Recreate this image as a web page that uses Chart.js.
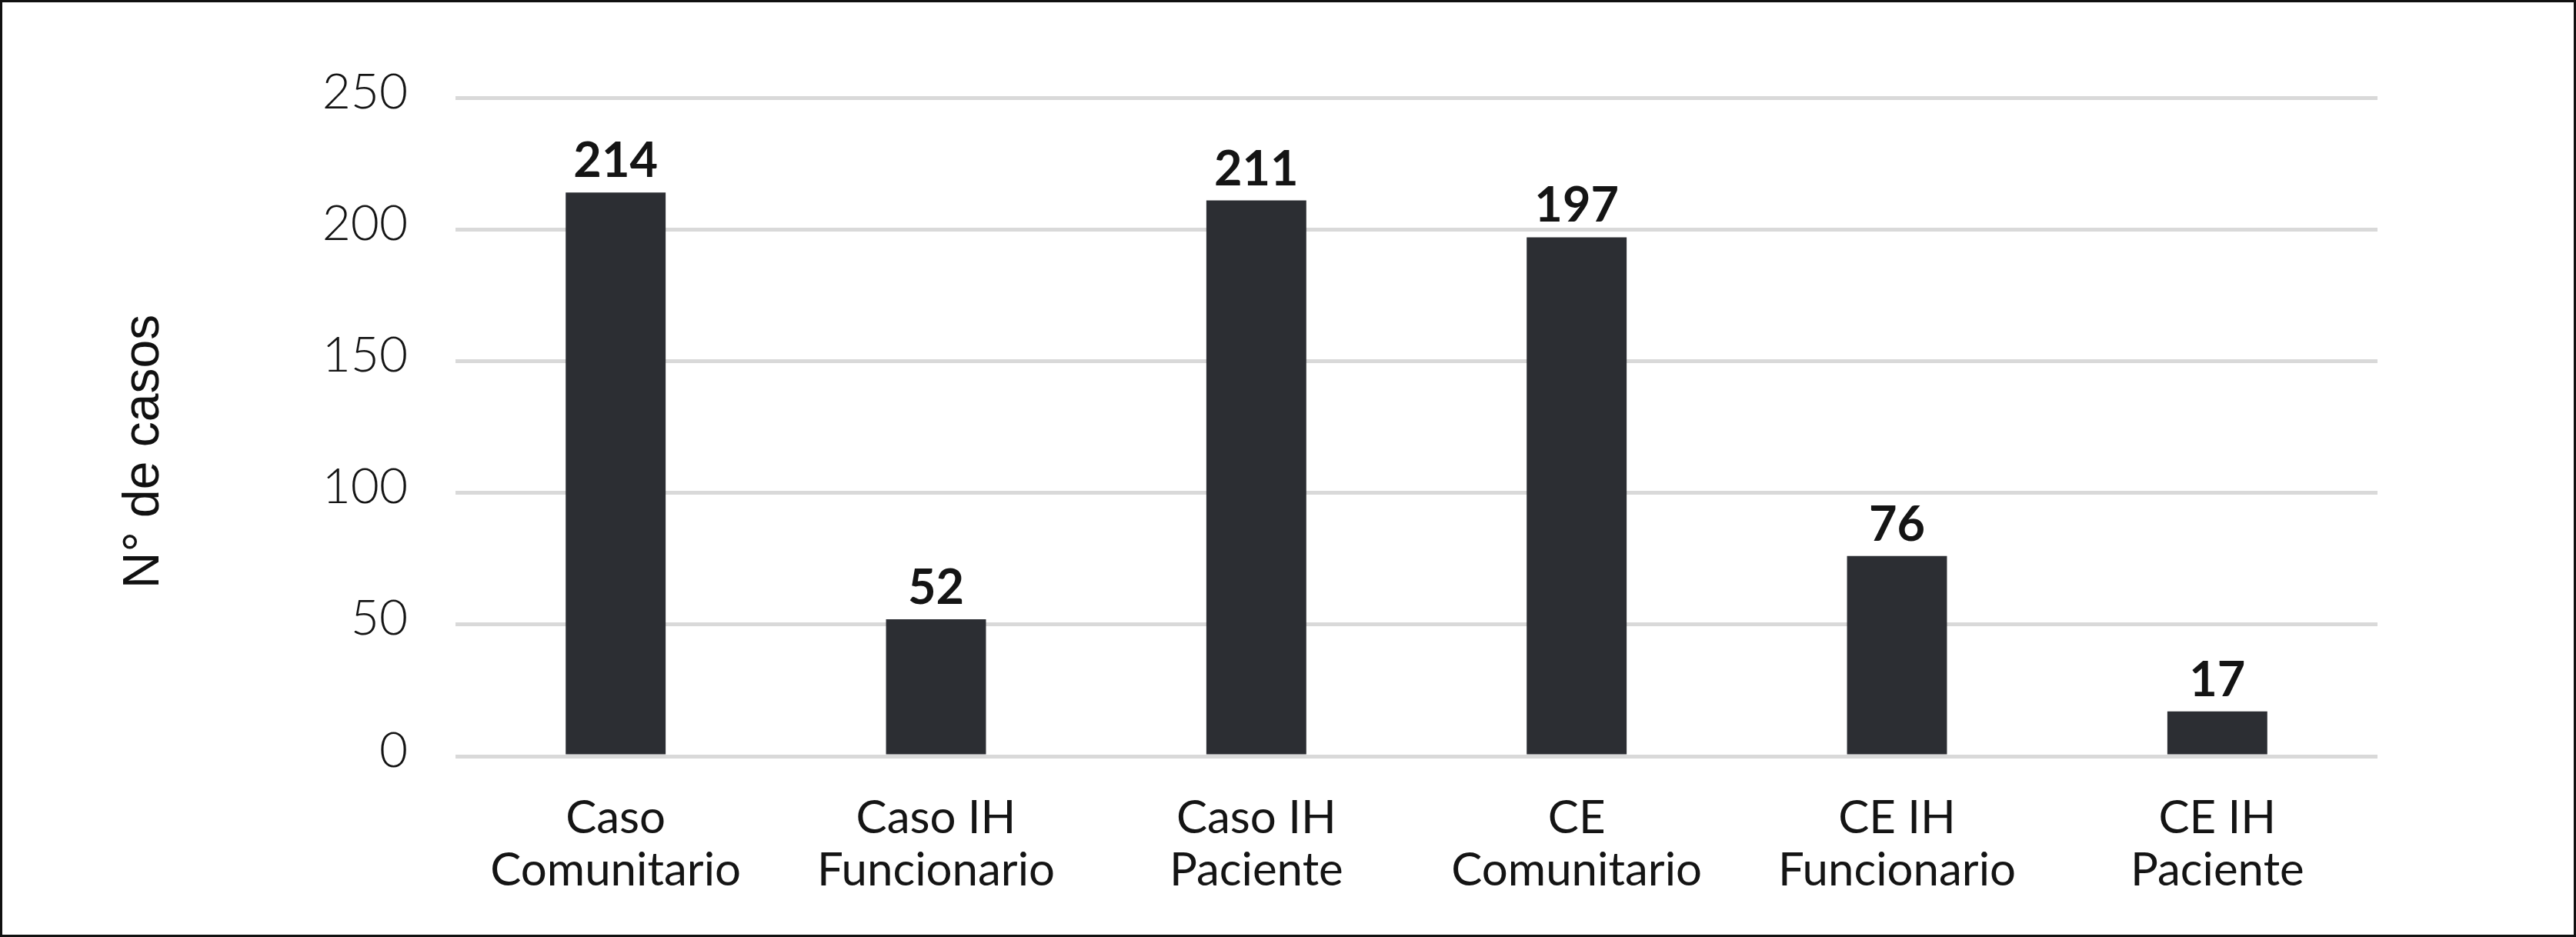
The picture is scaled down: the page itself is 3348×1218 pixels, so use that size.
<!DOCTYPE html>
<html>
<head>
<meta charset="utf-8">
<script src="https://cdn.jsdelivr.net/npm/chart.js@4"></script>
<style>
  html, body { margin: 0; padding: 0; background: #fff; }
  canvas { display: block; }
</style>
</head>
<body>
<canvas id="casosChart" width="3348" height="1218"></canvas>
<script>
const categories = [
  ['Caso', 'Comunitario'],
  ['Caso IH', 'Funcionario'],
  ['Caso IH', 'Paciente'],
  ['CE', 'Comunitario'],
  ['CE IH', 'Funcionario'],
  ['CE IH', 'Paciente']
]
const casos = [214, 52, 211, 197, 76, 17]
const yTicks = [0, 50, 100, 150, 200, 250]
const yTitle = 'N° de casos'

// value labels above each bar
const barLabels = {
  id: 'barLabels',
  afterDatasetsDraw(chart) {
    const ctx = chart.ctx
    const meta = chart.getDatasetMeta(0)
    ctx.save()
    ctx.font = 'bold 63px Lato'
    ctx.fillStyle = '#141414'
    ctx.textAlign = 'center'
    ctx.textBaseline = 'alphabetic'
    meta.data.forEach((bar, i) => {
      ctx.fillText(String(chart.data.datasets[0].data[i]), bar.x, bar.y - 20)
    })
    ctx.restore()
  }
}

// y axis title + outer frame
const frame = {
  id: 'frame',
  afterDraw(chart) {
    const ctx = chart.ctx
    ctx.save()
    ctx.translate(188, 587)
    ctx.rotate(-Math.PI / 2)
    ctx.font = '66px "Liberation Sans", Arial, sans-serif'
    ctx.fillStyle = '#111'
    ctx.textAlign = 'center'
    ctx.textBaseline = 'middle'
    ctx.fillText(yTitle, 0, 0)
    ctx.restore()

    ctx.save()
    ctx.strokeStyle = '#111'
    ctx.lineWidth = 3
    ctx.strokeRect(1.5, 1.5, chart.width - 3, chart.height - 3)
    ctx.restore()
  }
}

new Chart(document.getElementById('casosChart'), {
  type: 'bar',
  data: {
    labels: categories,
    datasets: [{
      data: casos,
      backgroundColor: '#2c2e33',
      barPercentage: 0.312,
      categoryPercentage: 1.0
    }]
  },
  options: {
    responsive: false,
    animation: false,
    layout: { padding: { top: 127, right: 258, bottom: 0, left: 0 } },
    plugins: {
      legend: { display: false },
      tooltip: { enabled: false }
    },
    scales: {
      x: {
        grid: { display: false, drawTicks: false },
        border: { display: false },
        ticks: {
          autoSkip: false,
          maxRotation: 0,
          padding: 47,
          color: '#141414',
          font: { family: 'Lato', size: 60, lineHeight: 1.13 }
        },
        afterFit(scale) { scale.height = 235 }
      },
      y: {
        min: 0,
        max: 250,
        afterBuildTicks(scale) { scale.ticks = yTicks.map(v => ({ value: v })) },
        grid: { color: '#d9d9d9', lineWidth: 5, drawTicks: false },
        border: { display: false },
        ticks: {
          padding: 62,
          labelOffset: -7,
          color: '#141414',
          font: { family: 'Lato', size: 64, weight: '300' }
        },
        afterFit(scale) { scale.width = 592 }
      }
    }
  },
  plugins: [barLabels, frame]
})
</script>
</body>
</html>
